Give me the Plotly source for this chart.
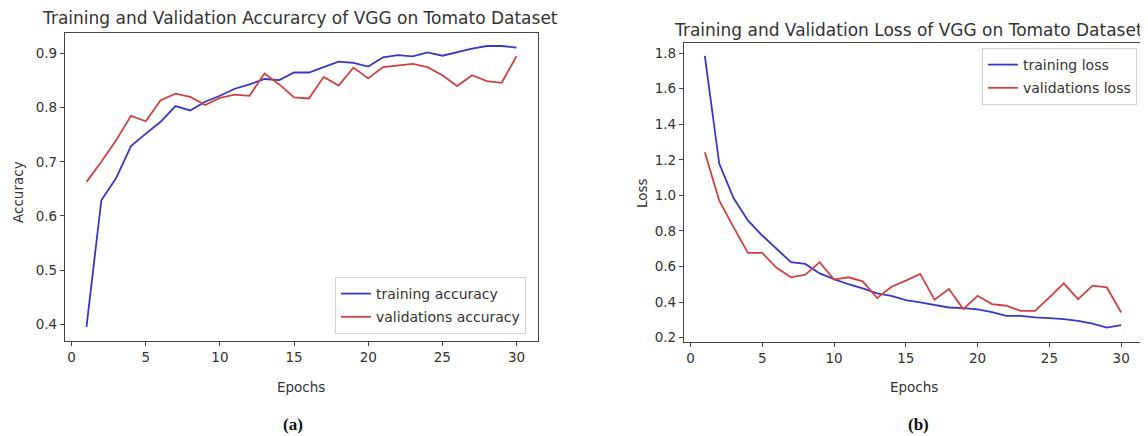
import plotly.graph_objects as go

epochs = list(range(1, 31))

train_acc = [0.395, 0.629, 0.670, 0.729, 0.752, 0.774, 0.803, 0.795, 0.811, 0.822,
             0.835, 0.843, 0.853, 0.851, 0.865, 0.865, 0.875, 0.885, 0.883, 0.876,
             0.893, 0.897, 0.895, 0.902, 0.896, 0.903, 0.909, 0.914, 0.914, 0.911]
val_acc = [0.663, 0.700, 0.740, 0.785, 0.775, 0.814, 0.826, 0.820, 0.805, 0.818,
           0.824, 0.822, 0.863, 0.843, 0.819, 0.817, 0.857, 0.841, 0.874, 0.854,
           0.875, 0.878, 0.881, 0.875, 0.860, 0.840, 0.860, 0.849, 0.846, 0.895]

train_loss = [1.785, 1.180, 0.985, 0.859, 0.774, 0.699, 0.624, 0.614, 0.561, 0.529,
              0.500, 0.477, 0.448, 0.435, 0.410, 0.398, 0.385, 0.369, 0.366, 0.358,
              0.343, 0.322, 0.322, 0.313, 0.309, 0.304, 0.294, 0.279, 0.256, 0.270]
val_loss = [1.242, 0.972, 0.821, 0.676, 0.676, 0.592, 0.539, 0.554, 0.624, 0.526,
            0.539, 0.516, 0.422, 0.486, 0.520, 0.558, 0.413, 0.473, 0.360, 0.435,
            0.388, 0.379, 0.350, 0.350, 0.426, 0.505, 0.416, 0.492, 0.482, 0.341]

x_ticks = [0, 5, 10, 15, 20, 25, 30]
BLUE = "#3838c4"
RED = "#d04242"
PAGE_OFF = 8  # default body margin of the html page
W, H = 1148 - PAGE_OFF, 436 - PAGE_OFF
FONT = "DejaVu Sans"
AX = "#444444"
TXT = "#333333"

fig = go.Figure()
fig.add_trace(go.Scatter(x=epochs, y=train_acc, mode="lines", name="training accuracy",
                         line=dict(color=BLUE, width=1.8), xaxis="x", yaxis="y",
                         legend="legend", legendgroup="a1"))
fig.add_trace(go.Scatter(x=epochs, y=val_acc, mode="lines", name="validations accuracy",
                         line=dict(color=RED, width=1.8), xaxis="x", yaxis="y",
                         legend="legend", legendgroup="a2"))
fig.add_trace(go.Scatter(x=epochs, y=train_loss, mode="lines", name="training loss",
                         line=dict(color=BLUE, width=1.8), xaxis="x2", yaxis="y2",
                         legend="legend2", legendgroup="l1"))
fig.add_trace(go.Scatter(x=epochs, y=val_loss, mode="lines", name="validations loss",
                         line=dict(color=RED, width=1.8), xaxis="x2", yaxis="y2",
                         legend="legend2", legendgroup="l2"))

axis_common = dict(showline=True, mirror=True, linecolor=AX, linewidth=1.2,
                   ticks="outside", ticklen=4, tickcolor=AX, showgrid=False, zeroline=False,
                   automargin=False,
                   tickfont=dict(family=FONT, size=13.5, color=TXT))


def px_x(p):
    return (p - PAGE_OFF) / W


def px_y(p):
    return 1 - (p - PAGE_OFF) / H


legend_common = dict(bgcolor="rgba(255,255,255,0.9)", bordercolor="#d0d0d0", borderwidth=1,
                     font=dict(family=FONT, size=14, color=TXT), itemwidth=30,
                     tracegroupgap=2)

fig.update_layout(
    width=W, height=H,
    margin=dict(l=0, r=0, t=0, b=0),
    paper_bgcolor="white", plot_bgcolor="white",
    font=dict(family=FONT, color=TXT),
    xaxis=dict(domain=[px_x(65), px_x(538)], range=[-0.45, 31.45], tickvals=x_ticks,
               anchor="y", **axis_common),
    yaxis=dict(domain=[px_y(341), px_y(33)], range=[0.369, 0.938], dtick=0.1, tickformat=".1f",
               anchor="x", **axis_common),
    xaxis2=dict(domain=[px_x(684), px_x(1142)], range=[-0.45, 31.45], tickvals=x_ticks,
                anchor="y2", **axis_common),
    yaxis2=dict(domain=[px_y(342), px_y(43)], range=[0.175, 1.857], dtick=0.2, tickformat=".1f",
                anchor="x2", **axis_common),
    legend=dict(x=px_x(335), y=px_y(334), xanchor="left", yanchor="bottom", **legend_common),
    legend2=dict(x=px_x(982), y=px_y(48), xanchor="left", yanchor="top", **legend_common),
    showlegend=True,
)


def label(text, x, y, size, family=FONT, color=TXT, angle=0):
    fig.add_annotation(text=text, x=px_x(x), y=px_y(y), xref="paper", yref="paper",
                       xanchor="center", yanchor="middle", showarrow=False, textangle=angle,
                       font=dict(family=family, size=size, color=color))


label("Training and Validation Accurarcy of VGG on Tomato Dataset", 300, 18, 17)
label("Training and Validation Loss of VGG on Tomato Dataset", 908, 30, 17)
label("Epochs", 301, 387, 13.5)
label("Epochs", 914, 387, 13.5)
label("Accuracy", 18, 192, 13.5, angle=-90)
label("Loss", 642, 193, 13.5, angle=-90)
label("<b>(a)</b>", 293, 424, 17, family="Liberation Serif", color="#111111")
label("<b>(b)</b>", 918, 424, 17, family="Liberation Serif", color="#111111")

fig.write_html("out.html")
